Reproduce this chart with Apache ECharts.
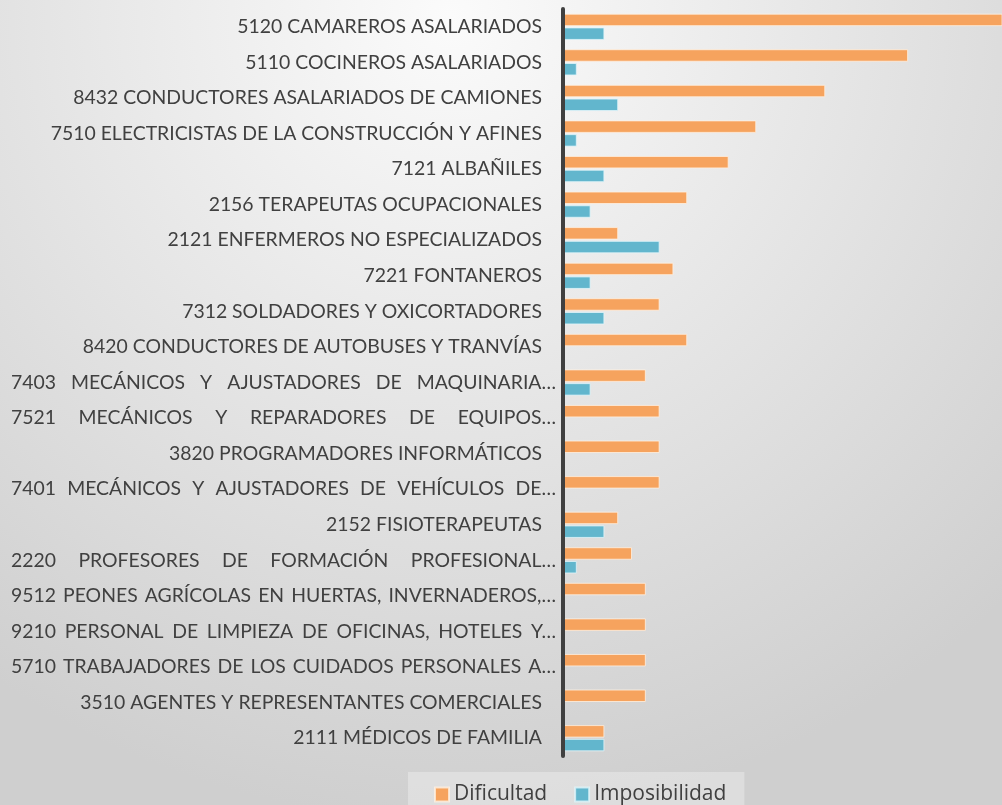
<!DOCTYPE html>
<html>
<head>
<meta charset="utf-8">
<script src="https://cdn.jsdelivr.net/npm/echarts@6/dist/echarts.min.js"></script>
<style>
  html, body { margin: 0; padding: 0; }
  #chart { width: 1002px; height: 805px; }
</style>
</head>
<body>
<div id="chart"></div>
<script>
var categories = [
  "5120 CAMAREROS ASALARIADOS",
  "5110 COCINEROS ASALARIADOS",
  "8432 CONDUCTORES ASALARIADOS DE CAMIONES",
  "7510 ELECTRICISTAS DE LA CONSTRUCCIÓN Y AFINES",
  "7121 ALBAÑILES",
  "2156 TERAPEUTAS OCUPACIONALES",
  "2121 ENFERMEROS NO ESPECIALIZADOS",
  "7221 FONTANEROS",
  "7312 SOLDADORES Y OXICORTADORES",
  "8420 CONDUCTORES DE AUTOBUSES Y TRANVÍAS",
  "7403 MECÁNICOS Y AJUSTADORES DE MAQUINARIA…",
  "7521 MECÁNICOS Y REPARADORES DE EQUIPOS…",
  "3820 PROGRAMADORES INFORMÁTICOS",
  "7401 MECÁNICOS Y AJUSTADORES DE VEHÍCULOS DE…",
  "2152 FISIOTERAPEUTAS",
  "2220 PROFESORES DE FORMACIÓN PROFESIONAL…",
  "9512 PEONES AGRÍCOLAS EN HUERTAS, INVERNADEROS,…",
  "9210 PERSONAL DE LIMPIEZA DE OFICINAS, HOTELES Y…",
  "5710 TRABAJADORES DE LOS CUIDADOS PERSONALES A…",
  "3510 AGENTES Y REPRESENTANTES COMERCIALES",
  "2111 MÉDICOS DE FAMILIA"
];
var dificultad    = [32, 25, 19, 14, 12, 9, 4, 8, 7, 9, 6, 7, 7, 7, 4, 5, 6, 6, 6, 6, 3];
var imposibilidad = [3, 1, 4, 1, 3, 2, 7, 2, 3, 0, 2, 0, 0, 0, 3, 1, 0, 0, 0, 0, 3];
var seriesNames = ["Dificultad", "Imposibilidad"];

var labelFamily = "Lato";
var labelSize = 19.4;
var labelColor = "#404040";
var justifyWidth = 545;

// medir texto para justificar las etiquetas largas (como Excel)
var ctx = document.createElement("canvas").getContext("2d");
ctx.font = labelSize + "px " + labelFamily;

var rich = {
  w: { fontFamily: labelFamily, fontSize: labelSize, color: labelColor },
  n: { fontFamily: labelFamily, fontSize: labelSize, color: labelColor, padding: [0, 14, 0, 0] }
};
var labelText = {};

categories.forEach(function (text, idx) {
  if (text.slice(-1) !== "…") {
    labelText[text] = "{n|" + text + "}";
    return;
  }
  var words = text.split(" ");
  var wordsW = 0;
  words.forEach(function (w) { wordsW += ctx.measureText(w).width; });
  var gap = (justifyWidth - wordsW) / (words.length - 1);
  rich["g" + idx] = { width: gap, fontSize: labelSize, fontFamily: labelFamily };
  labelText[text] = words.map(function (w) { return "{w|" + w + "}"; })
    .join("{g" + idx + "| }");
});

// celdas vacías (0) no se dibujan
function noZero(arr) {
  return arr.map(function (v) { return v === 0 ? "-" : v; });
}

var myChart = echarts.init(document.getElementById("chart"));

var option = {
  backgroundColor: {
    type: "radial",
    x: 0.45, y: 0.02, r: 1.0,
    colorStops: [
      { offset: 0, color: "#fbfbfb" },
      { offset: 1, color: "#cfcfcf" }
    ]
  },
  animation: false,
  legend: {
    data: seriesNames,
    left: 408,
    top: 772,
    padding: [12, 18, 10, 26],
    itemGap: 27,
    itemWidth: 14,
    itemHeight: 14,
    icon: "rect",
    backgroundColor: "rgba(255,255,255,0.3)",
    textStyle: { fontFamily: "Open Sans", fontSize: 21, color: labelColor }
  },
  grid: { left: 563, right: 0, top: 9, bottom: 49, containLabel: false },
  xAxis: {
    type: "value",
    min: 0,
    max: 31.8,
    show: false
  },
  yAxis: {
    type: "category",
    data: categories,
    inverse: true,
    z: 10,
    axisLine: { show: true, lineStyle: { color: labelColor, width: 4 } },
    axisTick: { show: false },
    axisLabel: {
      interval: 0,
      margin: 7,
      formatter: function (value) { return labelText[value]; },
      rich: rich
    }
  },
  series: [
    {
      name: seriesNames[0],
      type: "bar",
      data: noZero(dificultad),
      barWidth: 12.5,
      barGap: "10%",
      itemStyle: { color: "#F6A35E", borderColor: "rgba(255,240,225,0.8)", borderWidth: 1 }
    },
    {
      name: seriesNames[1],
      type: "bar",
      data: noZero(imposibilidad),
      barWidth: 12.5,
      itemStyle: { color: "#62B6CD", borderColor: "rgba(225,245,250,0.8)", borderWidth: 1 }
    }
  ]
};

myChart.setOption(option);
</script>
</body>
</html>
